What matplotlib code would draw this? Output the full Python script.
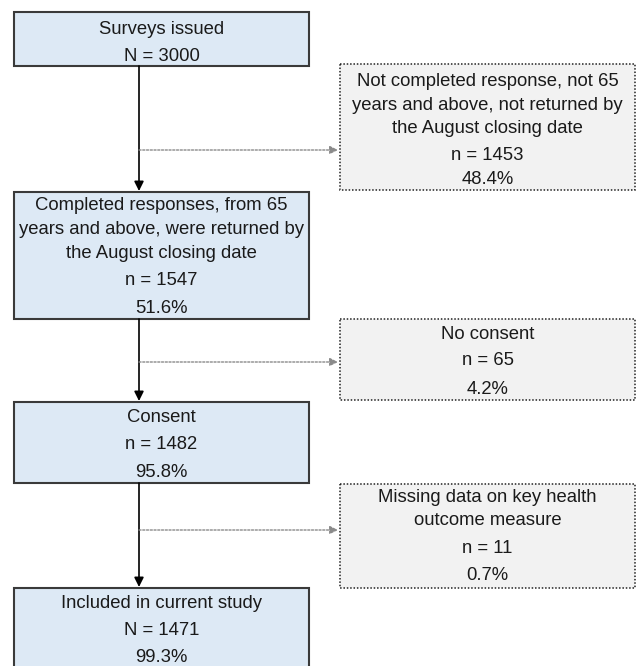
import matplotlib.pyplot as plt
from matplotlib.patches import Rectangle

plt.rcParams['font.family'] = ['Liberation Sans', 'DejaVu Sans']

# flow data
main_titles = ['Surveys issued',
               'Completed responses, from 65\nyears and above, were returned by\nthe August closing date',
               'Consent',
               'Included in current study']
main_counts = ['N = 3000', 'n = 1547', 'n = 1482', 'N = 1471']
main_pcts = [None, '51.6%', '95.8%', '99.3%']

excl_titles = ['Not completed response, not 65\nyears and above, not returned by\nthe August closing date',
               'No consent',
               'Missing data on key health\noutcome measure']
excl_counts = ['n = 1453', 'n = 65', 'n = 11']
excl_pcts = ['48.4%', '4.2%', '0.7%']

# layout (pixels, y down)
W, H = 636, 666
LX0, LX1 = 14, 309
RX0, RX1 = 340, 635
main_y = [(12, 66), (192, 319), (402, 483), (588, 680)]
main_lines_y = [[28, 55], [204, 228, 252, 279, 307], [416, 443, 471], [602, 629, 656]]
excl_y = [(64, 190), (319, 400), (484, 588)]
excl_lines_y = [[80, 104, 127, 154, 178], [333, 359, 388], [496, 519, 547, 574]]
branch_y = [150, 362, 530]

BLUE = '#dde9f5'
GREY = '#f2f2f2'
TXT = '#1a1a1a'
FS = 13.3

fig = plt.figure(figsize=(W / 100, H / 100), dpi=100)
ax = fig.add_axes([0, 0, 1, 1])
ax.set_xlim(0, W)
ax.set_ylim(H, 0)
ax.axis('off')


def draw_box(x0, x1, y0, y1, lines, ys, fill, dotted):
    if dotted:
        r = Rectangle((x0, y0), x1 - x0, y1 - y0, facecolor=fill,
                      edgecolor='#222222', linewidth=1.1, linestyle=(0, (1, 1.2)))
    else:
        r = Rectangle((x0, y0), x1 - x0, y1 - y0, facecolor=fill,
                      edgecolor='#3a3a3a', linewidth=1.5)
    ax.add_patch(r)
    cx = (x0 + x1) / 2
    for t, y in zip(lines, ys):
        ax.text(cx, y + 1.5, t, ha='center', va='center', fontsize=FS, color=TXT)


for i in range(len(main_titles)):
    lines = main_titles[i].split('\n') + [main_counts[i]]
    if main_pcts[i]:
        lines.append(main_pcts[i])
    y0, y1 = main_y[i]
    draw_box(LX0, LX1, y0, y1, lines, main_lines_y[i], BLUE, False)

for i in range(len(excl_titles)):
    lines = excl_titles[i].split('\n') + [excl_counts[i], excl_pcts[i]]
    y0, y1 = excl_y[i]
    draw_box(RX0, RX1, y0, y1, lines, excl_lines_y[i], GREY, True)

ax_x = 139
for i in range(3):
    # main downward arrow
    ax.annotate('', xy=(ax_x, main_y[i + 1][0] - 1), xytext=(ax_x, main_y[i][1]),
                arrowprops=dict(arrowstyle='-|>', color='black', lw=1.2,
                                mutation_scale=14, shrinkA=0, shrinkB=0))
    # dotted branch to exclusion box
    ax.annotate('', xy=(RX0 - 2, branch_y[i]), xytext=(ax_x, branch_y[i]),
                arrowprops=dict(arrowstyle='-|>', color='#8a8a8a', lw=1.0,
                                linestyle=(0, (1.5, 1.2)), mutation_scale=12,
                                shrinkA=0, shrinkB=0))

fig.savefig('out.png', dpi=100)
